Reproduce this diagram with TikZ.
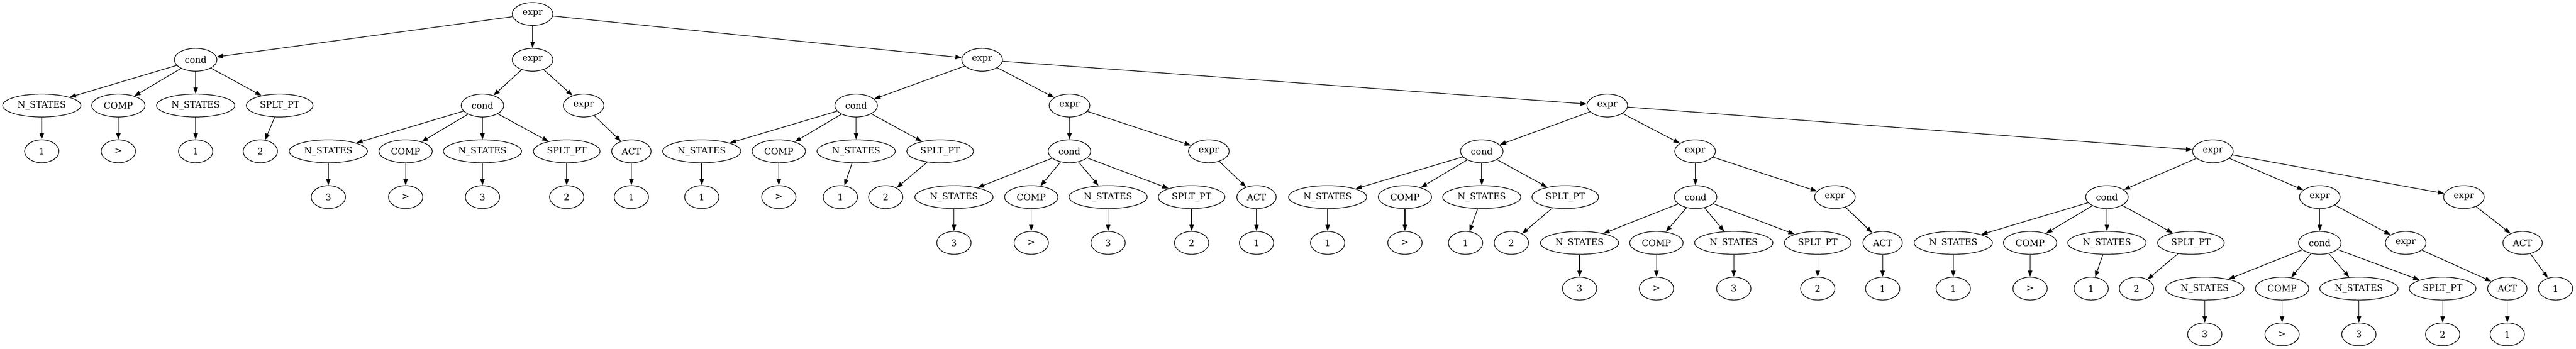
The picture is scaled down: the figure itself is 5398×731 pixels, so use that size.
\documentclass[tikz,border=0pt]{standalone}
\usepackage{fontspec}
\setmainfont{DejaVu Serif}
\usetikzlibrary{shapes.geometric,arrows.meta}
\tikzset{
  nd/.style={ellipse, draw, line width=1pt, inner sep=0pt, minimum height=36pt,
    font=\fontsize{14pt}{16pt}\selectfont},
  wns/.style={nd, minimum width=123pt},
  wcomp/.style={nd, minimum width=84pt},
  wsp/.style={nd, minimum width=105pt},
  wcond/.style={nd, minimum width=67pt},
  wexpr/.style={nd, minimum width=64pt},
  wact/.style={nd, minimum width=62pt},
  wdig/.style={nd, minimum width=54pt},
  edge/.style={line width=1pt, -{Triangle[length=10pt,width=7pt]}}
}
\begin{document}
\begin{tikzpicture}[x=0.75pt, y=-0.75pt]
\useasboundingbox (0,0) rectangle (5398,731);
% levels
\def\LA{29.33}\def\LB{125.33}\def\LC{221.33}\def\LD{317.33}
\def\LE{413.33}\def\LF{509.33}\def\LG{605.33}\def\LH{701.33}
% L0
\node[wexpr] (e0) at (1116,\LA) {expr};
% L1
\node[wcond] (c1) at (410,\LB) {cond};
\node[wexpr] (e1) at (1116,\LB) {expr};
\node[wexpr] (e2) at (2058,\LB) {expr};
% c1 subtree
\node[wns]   (a1) at (87.5,\LC) {N\_STATES};
\node[wcomp] (a2) at (248,\LC) {COMP};
\node[wns]   (a3) at (410,\LC) {N\_STATES};
\node[wsp]   (a4) at (586,\LC) {SPLT\_PT};
\node[wdig] (a1v) at (87.5,\LD) {1};
\node[wdig] (a2v) at (248,\LD) {>};
\node[wdig] (a3v) at (410,\LD) {1};
\node[wdig] (a4v) at (545.5,\LD) {2};
% e1 subtree
\node[wcond] (c2) at (1011,\LC) {cond};
\node[wexpr] (e3) at (1223,\LC) {expr};
\node[wns]   (b1) at (688,\LD) {N\_STATES};
\node[wcomp] (b2) at (850,\LD) {COMP};
\node[wns]   (b3) at (1011,\LD) {N\_STATES};
\node[wsp]   (b4) at (1187.5,\LD) {SPLT\_PT};
\node[wdig] (b1v) at (688,\LE) {3};
\node[wdig] (b2v) at (850,\LE) {>};
\node[wdig] (b3v) at (1011,\LE) {3};
\node[wdig] (b4v) at (1187.5,\LE) {2};
\node[wact] (t1) at (1323,\LD) {ACT};
\node[wdig] (t1v) at (1323,\LE) {1};
% e2 subtree
\node[wcond] (c3) at (1794,\LC) {cond};
\node[wexpr] (e4) at (2241,\LC) {expr};
\node[wexpr] (e5) at (3368,\LC) {expr};
\node[wns]   (d1) at (1470.5,\LD) {N\_STATES};
\node[wcomp] (d2) at (1632,\LD) {COMP};
\node[wns]   (d3) at (1794,\LD) {N\_STATES};
\node[wsp]   (d4) at (1970,\LD) {SPLT\_PT};
\node[wdig] (d1v) at (1470.5,\LE) {1};
\node[wdig] (d2v) at (1632,\LE) {>};
\node[wdig] (d3v) at (1761,\LE) {1};
\node[wdig] (d4v) at (1856,\LE) {2};
% e4 subtree
\node[wcond] (c4) at (2241,\LD) {cond};
\node[wexpr] (e6) at (2533,\LD) {expr};
\node[wns]   (f1) at (1999,\LE) {N\_STATES};
\node[wcomp] (f2) at (2161,\LE) {COMP};
\node[wns]   (f3) at (2322,\LE) {N\_STATES};
\node[wsp]   (f4) at (2497,\LE) {SPLT\_PT};
\node[wdig] (f1v) at (1999,\LF) {3};
\node[wdig] (f2v) at (2161,\LF) {>};
\node[wdig] (f3v) at (2322,\LF) {3};
\node[wdig] (f4v) at (2497,\LF) {2};
\node[wact] (t2) at (2633,\LE) {ACT};
\node[wdig] (t2v) at (2633,\LF) {1};
% e5 subtree
\node[wcond] (c5) at (3105,\LD) {cond};
\node[wexpr] (e7) at (3552,\LD) {expr};
\node[wexpr] (e8) at (4637,\LD) {expr};
\node[wns]   (g1) at (2782,\LE) {N\_STATES};
\node[wcomp] (g2) at (2944,\LE) {COMP};
\node[wns]   (g3) at (3105,\LE) {N\_STATES};
\node[wsp]   (g4) at (3280,\LE) {SPLT\_PT};
\node[wdig] (g1v) at (2782,\LF) {1};
\node[wdig] (g2v) at (2944,\LF) {>};
\node[wdig] (g3v) at (3071,\LF) {1};
\node[wdig] (g4v) at (3167,\LF) {2};
% e7 subtree
\node[wcond] (c6) at (3553,\LE) {cond};
\node[wexpr] (e9) at (3845,\LE) {expr};
\node[wns]   (h1) at (3310,\LF) {N\_STATES};
\node[wcomp] (h2) at (3471,\LF) {COMP};
\node[wns]   (h3) at (3633,\LF) {N\_STATES};
\node[wsp]   (h4) at (3809,\LF) {SPLT\_PT};
\node[wdig] (h1v) at (3310,\LG) {3};
\node[wdig] (h2v) at (3471,\LG) {>};
\node[wdig] (h3v) at (3633,\LG) {3};
\node[wdig] (h4v) at (3809,\LG) {2};
\node[wact] (t3) at (3945,\LF) {ACT};
\node[wdig] (t3v) at (3945,\LG) {1};
% e8 subtree
\node[wcond] (c7) at (4415,\LE) {cond};
\node[wexpr] (e10) at (4861,\LE) {expr};
\node[wexpr] (e11) at (5163,\LE) {expr};
\node[wns]   (k1) at (4093,\LF) {N\_STATES};
\node[wcomp] (k2) at (4254,\LF) {COMP};
\node[wns]   (k3) at (4415,\LF) {N\_STATES};
\node[wsp]   (k4) at (4591,\LF) {SPLT\_PT};
\node[wdig] (k1v) at (4093,\LG) {1};
\node[wdig] (k2v) at (4254,\LG) {>};
\node[wdig] (k3v) at (4382,\LG) {1};
\node[wdig] (k4v) at (4477,\LG) {2};
% e10 subtree
\node[wcond] (c8) at (4861,\LF) {cond};
\node[wexpr] (e12) at (5041,\LF) {expr};
\node[wns]   (m1) at (4620,\LG) {N\_STATES};
\node[wcomp] (m2) at (4782,\LG) {COMP};
\node[wns]   (m3) at (4943,\LG) {N\_STATES};
\node[wsp]   (m4) at (5118.5,\LG) {SPLT\_PT};
\node[wdig] (m1v) at (4620,\LH) {3};
\node[wdig] (m2v) at (4782,\LH) {>};
\node[wdig] (m3v) at (4943,\LH) {3};
\node[wdig] (m4v) at (5118.5,\LH) {2};
\node[wact] (t4) at (5254,\LG) {ACT};
\node[wdig] (t4v) at (5254,\LH) {1};
% e11 subtree
\node[wact] (t5) at (5286,\LF) {ACT};
\node[wdig] (t5v) at (5355,\LG) {1};
% edges
\foreach \p/\c in {e0/c1,e0/e1,e0/e2,
  c1/a1,c1/a2,c1/a3,c1/a4,a1/a1v,a2/a2v,a3/a3v,a4/a4v,
  e1/c2,e1/e3,c2/b1,c2/b2,c2/b3,c2/b4,b1/b1v,b2/b2v,b3/b3v,b4/b4v,e3/t1,t1/t1v,
  e2/c3,e2/e4,e2/e5,c3/d1,c3/d2,c3/d3,c3/d4,d1/d1v,d2/d2v,d3/d3v,d4/d4v,
  e4/c4,e4/e6,c4/f1,c4/f2,c4/f3,c4/f4,f1/f1v,f2/f2v,f3/f3v,f4/f4v,e6/t2,t2/t2v,
  e5/c5,e5/e7,e5/e8,c5/g1,c5/g2,c5/g3,c5/g4,g1/g1v,g2/g2v,g3/g3v,g4/g4v,
  e7/c6,e7/e9,c6/h1,c6/h2,c6/h3,c6/h4,h1/h1v,h2/h2v,h3/h3v,h4/h4v,e9/t3,t3/t3v,
  e8/c7,e8/e10,e8/e11,c7/k1,c7/k2,c7/k3,c7/k4,k1/k1v,k2/k2v,k3/k3v,k4/k4v,
  e10/c8,e10/e12,c8/m1,c8/m2,c8/m3,c8/m4,m1/m1v,m2/m2v,m3/m3v,m4/m4v,e12/t4,t4/t4v,
  e11/t5,t5/t5v}
  \draw[edge] (\p) -- (\c);
\end{tikzpicture}
\end{document}
